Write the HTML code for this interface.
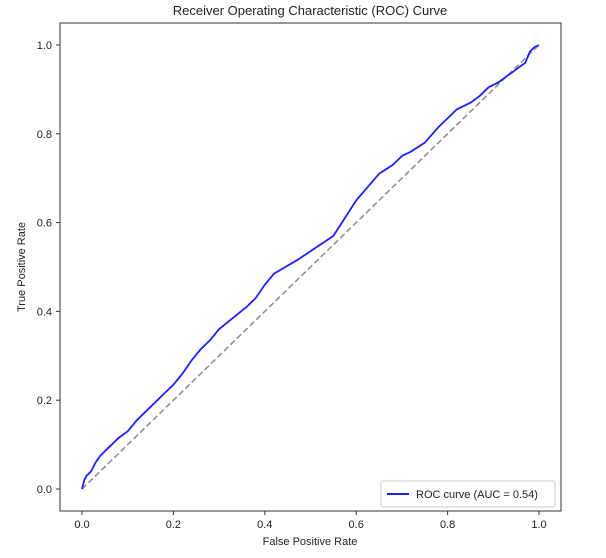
<!DOCTYPE html>
<html><head><meta charset="utf-8"><style>
body{margin:0;background:#fff;}
svg text{font-family:"Liberation Sans","DejaVu Sans",sans-serif;fill:#222;}
</style></head><body>
<svg width="606" height="553" xmlns="http://www.w3.org/2000/svg">
<rect width="606" height="553" fill="#fff"/>
<text x="310" y="15" text-anchor="middle" font-size="13">Receiver Operating Characteristic (ROC) Curve</text>
<g id="plot"></g>
<text x="310" y="545" text-anchor="middle" font-size="11">False Positive Rate</text>
<text transform="translate(25,267) rotate(-90)" text-anchor="middle" font-size="11">True Positive Rate</text>
<g>
<rect x="381" y="481" width="174" height="26" fill="#fff" stroke="#ccc" rx="2"/>
<line x1="387" y1="494" x2="409" y2="494" stroke="#1f1fff" stroke-width="2"/>
<text x="416" y="498" font-size="11">ROC curve (AUC = 0.54)</text>
</g>
</svg>
<script>
const fpr=[0,0.005,0.01,0.02,0.03,0.04,0.05,0.06,0.08,0.1,0.12,0.14,0.16,0.18,0.2,0.22,0.24,0.26,0.28,0.3,0.33,0.36,0.38,0.4,0.42,0.47,0.55,0.6,0.65,0.68,0.7,0.72,0.75,0.78,0.8,0.82,0.85,0.87,0.89,0.91,0.93,0.95,0.97,0.98,0.99,1];
const tpr=[0,0.02,0.03,0.04,0.06,0.075,0.085,0.095,0.115,0.13,0.155,0.175,0.195,0.215,0.235,0.26,0.29,0.315,0.335,0.36,0.385,0.41,0.43,0.46,0.485,0.515,0.57,0.65,0.71,0.73,0.75,0.76,0.78,0.815,0.835,0.855,0.87,0.885,0.905,0.915,0.93,0.945,0.96,0.985,0.995,1];
const xTicks=[0,0.2,0.4,0.6,0.8,1.0];
const yTicks=[0,0.2,0.4,0.6,0.8,1.0];
const NS="http://www.w3.org/2000/svg";
const X=v=>82+v*457, Y=v=>489-v*444;
const g=document.getElementById('plot');
function mk(t,a){const e=document.createElementNS(NS,t);for(const k in a)e.setAttribute(k,a[k]);g.appendChild(e);return e;}
const frame=mk('rect',{x:60,y:23,width:501,height:488,fill:'none',stroke:'#333','stroke-width':1});


xTicks.forEach(t=>{
 const l=mk('line',{x1:X(t),x2:X(t),y1:511,y2:515,stroke:'#333'});
 
 
 const tx=mk('text',{x:X(t),y:528,'text-anchor':'middle','font-size':11});tx.textContent=t.toFixed(1);
 
 
});
yTicks.forEach(t=>{
 const l=mk('line',{x1:56,x2:60,y1:Y(t),y2:Y(t),stroke:'#333'});
 
 
 const tx=mk('text',{x:52,y:Y(t)+4,'text-anchor':'end','font-size':11});tx.textContent=t.toFixed(1);
 
 
});
const d=mk('line',{x1:X(0),y1:Y(0),x2:X(1),y2:Y(1),stroke:'#909090','stroke-width':1.6,'stroke-dasharray':'6,3'});


const p=mk('polyline',{points:fpr.map((f,i)=>X(f)+','+Y(tpr[i])).join(' '),fill:'none',stroke:'#1f1fff','stroke-width':1.8});


</script>
</body></html>
